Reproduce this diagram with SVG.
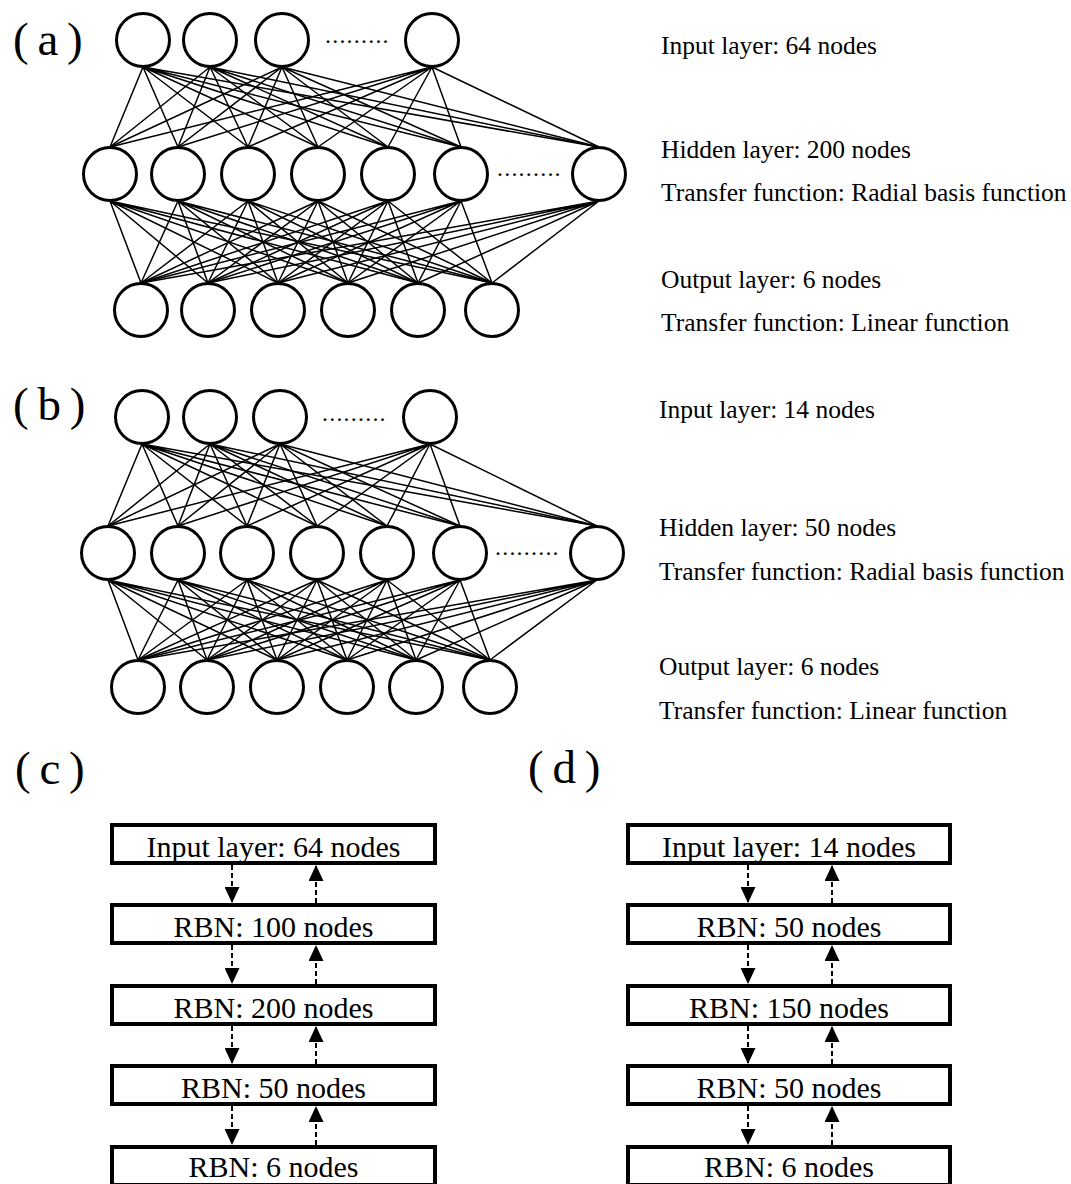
<svg xmlns="http://www.w3.org/2000/svg" width="1071" height="1184" viewBox="0 0 1071 1184">
<style>
.n{fill:#fff;stroke:#000;stroke-width:3}
.c{fill:none;stroke:#000;stroke-width:1.5}
.t{font-family:"Liberation Serif","Times New Roman",serif;fill:#000}
.lbl{font-size:47px;word-spacing:-3px}
.desc{font-size:25.5px}
.box{fill:#fff;stroke:#000;stroke-width:4}
.bt{font-size:30px;text-anchor:middle}
.dash{stroke:#000;stroke-width:2;stroke-dasharray:5 3;marker-end:url(#ah)}
.dots{font-size:24px;letter-spacing:1.2px}
</style>
<defs>
<marker id="ah" viewBox="0 0 16 15" refX="16" refY="7.5" markerWidth="16" markerHeight="15" markerUnits="userSpaceOnUse" orient="auto"><path d="M0,0 L16,7.5 L0,15 z" fill="#000"/></marker>
</defs>
<rect width="1071" height="1184" fill="#fff"/>
<g id="connectors">
<path class="c" d="M143 67L110 147M143 67L178 147M143 67L248 147M143 67L318 147M143 67L388 147M143 67L461 147M143 67L599 147"/>
<path class="c" d="M210 67L110 147M210 67L178 147M210 67L248 147M210 67L318 147M210 67L388 147M210 67L461 147M210 67L599 147"/>
<path class="c" d="M282 67L110 147M282 67L178 147M282 67L248 147M282 67L318 147M282 67L388 147M282 67L461 147M282 67L599 147"/>
<path class="c" d="M432 67L110 147M432 67L178 147M432 67L248 147M432 67L318 147M432 67L388 147M432 67L461 147M432 67L599 147"/>
<path class="c" d="M110 201L141 283M110 201L208 283M110 201L278 283M110 201L348 283M110 201L418 283M110 201L492 283"/>
<path class="c" d="M178 201L141 283M178 201L208 283M178 201L278 283M178 201L348 283M178 201L418 283M178 201L492 283"/>
<path class="c" d="M248 201L141 283M248 201L208 283M248 201L278 283M248 201L348 283M248 201L418 283M248 201L492 283"/>
<path class="c" d="M318 201L141 283M318 201L208 283M318 201L278 283M318 201L348 283M318 201L418 283M318 201L492 283"/>
<path class="c" d="M388 201L141 283M388 201L208 283M388 201L278 283M388 201L348 283M388 201L418 283M388 201L492 283"/>
<path class="c" d="M461 201L141 283M461 201L208 283M461 201L278 283M461 201L348 283M461 201L418 283M461 201L492 283"/>
<path class="c" d="M599 201L141 283M599 201L208 283M599 201L278 283M599 201L348 283M599 201L418 283M599 201L492 283"/>
<path class="c" d="M142 444L108 526M142 444L178 526M142 444L247 526M142 444L317 526M142 444L387 526M142 444L460 526M142 444L597 526"/>
<path class="c" d="M210 444L108 526M210 444L178 526M210 444L247 526M210 444L317 526M210 444L387 526M210 444L460 526M210 444L597 526"/>
<path class="c" d="M280 444L108 526M280 444L178 526M280 444L247 526M280 444L317 526M280 444L387 526M280 444L460 526M280 444L597 526"/>
<path class="c" d="M430 444L108 526M430 444L178 526M430 444L247 526M430 444L317 526M430 444L387 526M430 444L460 526M430 444L597 526"/>
<path class="c" d="M108 580L138 660M108 580L207 660M108 580L277 660M108 580L347 660M108 580L416 660M108 580L490 660"/>
<path class="c" d="M178 580L138 660M178 580L207 660M178 580L277 660M178 580L347 660M178 580L416 660M178 580L490 660"/>
<path class="c" d="M247 580L138 660M247 580L207 660M247 580L277 660M247 580L347 660M247 580L416 660M247 580L490 660"/>
<path class="c" d="M317 580L138 660M317 580L207 660M317 580L277 660M317 580L347 660M317 580L416 660M317 580L490 660"/>
<path class="c" d="M387 580L138 660M387 580L207 660M387 580L277 660M387 580L347 660M387 580L416 660M387 580L490 660"/>
<path class="c" d="M460 580L138 660M460 580L207 660M460 580L277 660M460 580L347 660M460 580L416 660M460 580L490 660"/>
<path class="c" d="M597 580L138 660M597 580L207 660M597 580L277 660M597 580L347 660M597 580L416 660M597 580L490 660"/>
<line class="dash" x1="232" y1="865" x2="232" y2="903"/>
<line class="dash" x1="316" y1="903" x2="316" y2="865"/>
<line class="dash" x1="232" y1="945" x2="232" y2="984"/>
<line class="dash" x1="316" y1="984" x2="316" y2="945"/>
<line class="dash" x1="232" y1="1026" x2="232" y2="1064"/>
<line class="dash" x1="316" y1="1064" x2="316" y2="1026"/>
<line class="dash" x1="232" y1="1106" x2="232" y2="1145"/>
<line class="dash" x1="316" y1="1145" x2="316" y2="1106"/>
<line class="dash" x1="748" y1="865" x2="748" y2="903"/>
<line class="dash" x1="832" y1="903" x2="832" y2="865"/>
<line class="dash" x1="748" y1="945" x2="748" y2="984"/>
<line class="dash" x1="832" y1="984" x2="832" y2="945"/>
<line class="dash" x1="748" y1="1026" x2="748" y2="1064"/>
<line class="dash" x1="832" y1="1064" x2="832" y2="1026"/>
<line class="dash" x1="748" y1="1106" x2="748" y2="1145"/>
<line class="dash" x1="832" y1="1145" x2="832" y2="1106"/>
</g>
<g id="labels" class="t lbl">
<text x="13" y="55">( a )</text>
<text x="13" y="420">( b )</text>
<text x="15" y="784">( c )</text>
<text x="528" y="783">( d )</text>
</g>
<g id="a-input">
<circle class="n" cx="143" cy="40" r="26.5"/>
<circle class="n" cx="210" cy="40" r="26.5"/>
<circle class="n" cx="282" cy="40" r="26.5"/>
<text class="t dots" x="325" y="43">.........</text>
<circle class="n" cx="432" cy="40" r="26.5"/>
</g>
<g id="a-hidden">
<circle class="n" cx="110" cy="174" r="26.5"/>
<circle class="n" cx="178" cy="174" r="26.5"/>
<circle class="n" cx="248" cy="174" r="26.5"/>
<circle class="n" cx="318" cy="174" r="26.5"/>
<circle class="n" cx="388" cy="174" r="26.5"/>
<circle class="n" cx="461" cy="174" r="26.5"/>
<text class="t dots" x="497" y="176">.........</text>
<circle class="n" cx="599" cy="174" r="26.5"/>
</g>
<g id="a-output">
<circle class="n" cx="141" cy="310" r="26.5"/>
<circle class="n" cx="208" cy="310" r="26.5"/>
<circle class="n" cx="278" cy="310" r="26.5"/>
<circle class="n" cx="348" cy="310" r="26.5"/>
<circle class="n" cx="418" cy="310" r="26.5"/>
<circle class="n" cx="492" cy="310" r="26.5"/>
</g>
<g id="a-text" class="t desc">
<text x="661" y="54">Input layer: 64 nodes</text>
<text x="661" y="158">Hidden layer: 200 nodes</text>
<text x="661" y="201">Transfer function: Radial basis function</text>
<text x="661" y="288">Output layer: 6 nodes</text>
<text x="661" y="331">Transfer function: Linear function</text>
</g>
<g id="b-input">
<circle class="n" cx="142" cy="417" r="26.5"/>
<circle class="n" cx="210" cy="417" r="26.5"/>
<circle class="n" cx="280" cy="417" r="26.5"/>
<text class="t dots" x="322" y="421">.........</text>
<circle class="n" cx="430" cy="417" r="26.5"/>
</g>
<g id="b-hidden">
<circle class="n" cx="108" cy="553" r="26.5"/>
<circle class="n" cx="178" cy="553" r="26.5"/>
<circle class="n" cx="247" cy="553" r="26.5"/>
<circle class="n" cx="317" cy="553" r="26.5"/>
<circle class="n" cx="387" cy="553" r="26.5"/>
<circle class="n" cx="460" cy="553" r="26.5"/>
<text class="t dots" x="495" y="555">.........</text>
<circle class="n" cx="597" cy="553" r="26.5"/>
</g>
<g id="b-output">
<circle class="n" cx="138" cy="687" r="26.5"/>
<circle class="n" cx="207" cy="687" r="26.5"/>
<circle class="n" cx="277" cy="687" r="26.5"/>
<circle class="n" cx="347" cy="687" r="26.5"/>
<circle class="n" cx="416" cy="687" r="26.5"/>
<circle class="n" cx="490" cy="687" r="26.5"/>
</g>
<g id="b-text" class="t desc">
<text x="659" y="418">Input layer: 14 nodes</text>
<text x="659" y="536">Hidden layer: 50 nodes</text>
<text x="659" y="580">Transfer function: Radial basis function</text>
<text x="659" y="675">Output layer: 6 nodes</text>
<text x="659" y="719">Transfer function: Linear function</text>
</g>
<g id="c-input"><rect class="box" x="112" y="825" width="323" height="38"/><text class="t bt" x="273.5" y="857">Input layer: 64 nodes</text></g>
<g id="c-rbn1"><rect class="box" x="112" y="905" width="323" height="38"/><text class="t bt" x="273.5" y="937">RBN: 100 nodes</text></g>
<g id="c-rbn2"><rect class="box" x="112" y="986" width="323" height="38"/><text class="t bt" x="273.5" y="1018">RBN: 200 nodes</text></g>
<g id="c-rbn3"><rect class="box" x="112" y="1066" width="323" height="38"/><text class="t bt" x="273.5" y="1098">RBN: 50 nodes</text></g>
<g id="c-rbn4"><rect class="box" x="112" y="1147" width="323" height="38"/><text class="t bt" x="273.5" y="1177">RBN: 6 nodes</text></g>
<g id="d-input"><rect class="box" x="628" y="825" width="322" height="38"/><text class="t bt" x="789" y="857">Input layer: 14 nodes</text></g>
<g id="d-rbn1"><rect class="box" x="628" y="905" width="322" height="38"/><text class="t bt" x="789" y="937">RBN: 50 nodes</text></g>
<g id="d-rbn2"><rect class="box" x="628" y="986" width="322" height="38"/><text class="t bt" x="789" y="1018">RBN: 150 nodes</text></g>
<g id="d-rbn3"><rect class="box" x="628" y="1066" width="322" height="38"/><text class="t bt" x="789" y="1098">RBN: 50 nodes</text></g>
<g id="d-rbn4"><rect class="box" x="628" y="1147" width="322" height="38"/><text class="t bt" x="789" y="1177">RBN: 6 nodes</text></g>
</svg>
